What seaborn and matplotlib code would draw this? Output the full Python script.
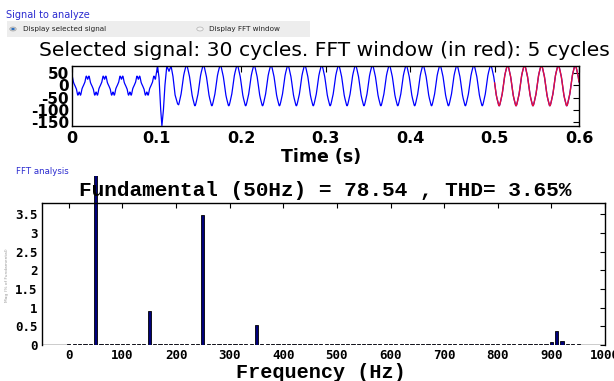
import numpy as np
import pandas as pd
import matplotlib
matplotlib.use("Agg")
import matplotlib.pyplot as plt
from matplotlib.patches import Rectangle, Circle
import seaborn as sns

# ---------------- data ----------------
# FFT spectrum, magnitude in % of fundamental, 10 Hz bins
FUND_HZ = 50
FUND_MAG = 78.54
THD_PCT = 3.65
harm_freqs = [50, 150, 250, 350, 550, 870, 880, 890, 900, 910, 920, 930, 940, 950]
harm_mags = [100.0, 0.92, 3.48, 0.54, 0.03, 0.02, 0.03, 0.04, 0.07, 0.37, 0.11, 0.04, 0.02, 0.02]
noise_floor = 0.015
bin_step, bin_last = 10, 950

# time signal: pre-event segment (before 0.1 s)
pre_amp, pre_offset, pre_peak_t = 35.0, -2.0, 0.0185
pre_harm_orders = [5, 7]
pre_harm_amps = [6.0, 3.0]
# transient around the event (read point by point)
trans_t = [0.0990, 0.1012, 0.1030, 0.1050, 0.1064, 0.1082, 0.1100, 0.1122, 0.1148, 0.1172, 0.1195, 0.1220, 0.1250]
trans_v = [30, 78, 30, -100, -164, -100, 0, 78, 56, 78, 35, -40, -76]
# steady state (after transient): fundamental + harmonics from the FFT above
post_offset, post_peak_t, post_start = -1.0, 0.0155, 0.1262
post_harm_orders = [3, 5, 7]
post_harm_pct = [0.92, 3.48, 0.54]
fs = 10000
fft_window = (0.5, 0.6)

title_top = "Selected signal: 30 cycles. FFT window (in red): 5 cycles"
title_fft = "Fundamental (50Hz) = 78.54 , THD= 3.65%"

# ---------------- build series ----------------
w = 2 * np.pi * FUND_HZ
t_pre = np.arange(0, trans_t[0], 1 / fs)
v_pre = pre_offset + pre_amp * np.cos(w * (t_pre - pre_peak_t))
for k, a in zip(pre_harm_orders, pre_harm_amps):
    v_pre += a * np.cos(k * w * (t_pre - pre_peak_t) + np.pi)
t_post = np.arange(post_start, 0.6 + 1e-9, 1 / fs)
v_post = post_offset + FUND_MAG * np.cos(w * (t_post - post_peak_t))
for k, p in zip(post_harm_orders, post_harm_pct):
    v_post += FUND_MAG * p / 100 * np.cos(k * w * (t_post - post_peak_t))
t_all = np.concatenate([t_pre, trans_t, t_post])
v_all = np.concatenate([v_pre, trans_v, v_post])
sig = pd.DataFrame({"t": t_all, "v": v_all})
win = sig[(sig.t >= fft_window[0]) & (sig.t <= fft_window[1])]

bins = list(range(0, bin_last + 1, bin_step))
mags = {f: noise_floor for f in bins}
for f, m in zip(harm_freqs, harm_mags):
    mags[f] = m
spec = pd.DataFrame({"f": list(mags.keys()), "m": list(mags.values())})

# ---------------- figure ----------------
sns.set_theme(style="white")
plt.rcParams["font.family"] = ["DejaVu Sans"]
W, H = 614, 381
fig = plt.figure(figsize=(W / 100, H / 100), dpi=100)
fig.patch.set_facecolor("white")

def fx(px):
    return px / W

def fy(py):
    return 1 - py / H

# GUI header
fig.text(fx(6), fy(15), "Signal to analyze", color="#2b2bd0", fontsize=7, va="center", ha="left")
fig.patches.append(Rectangle((fx(7), fy(37)), fx(303), 16 / H, transform=fig.transFigure,
                             facecolor="#ededed", edgecolor="none", zorder=0))
fig.patches.append(Circle((fx(13), fy(29)), 3.2 / W, transform=fig.transFigure,
                          facecolor="#d8d8d8", edgecolor="#a0a0a0", lw=0.5))
fig.patches.append(Circle((fx(13), fy(29)), 1.8 / W, transform=fig.transFigure,
                          facecolor="#2a6fc0", edgecolor="none"))
fig.patches.append(Circle((fx(200), fy(29)), 3.2 / W, transform=fig.transFigure,
                          facecolor="#f4f4f4", edgecolor="#b0b0b0", lw=0.5))
fig.text(fx(23), fy(29), "Display selected signal", fontsize=5.2, va="center", ha="left", color="#222222")
fig.text(fx(209), fy(29), "Display FFT window", fontsize=5.2, va="center", ha="left", color="#222222")

# ---------- top axes ----------
ax1 = fig.add_axes([fx(72), fy(125.7), fx(579) - fx(72), fy(65.7) - fy(125.7)])
sns.lineplot(data=sig, x="t", y="v", ax=ax1, color="#0000ff", linewidth=0.9,
             estimator=None, sort=False)
sns.lineplot(data=win, x="t", y="v", ax=ax1, color="#e5103c", linewidth=1.0,
             estimator=None, sort=False)
ax1.set_xlim(0, 0.6)
ax1.set_ylim(-164, 78.6)
ax1.set_xticks([0, 0.1, 0.2, 0.3, 0.4, 0.5, 0.6])
ax1.set_xticklabels(["0", "0.1", "0.2", "0.3", "0.4", "0.5", "0.6"])
ax1.set_yticks([-150, -100, -50, 0, 50])
ax1.set_yticklabels(["-150", "-100", "-50", "0", "50"])
ax1.set_xlabel("")
ax1.set_ylabel("")
ax1.tick_params(direction="in", top=True, right=True, length=4, width=0.8, colors="black")
ax1.tick_params(axis="x", pad=4, labelsize=11.5)
ax1.tick_params(axis="y", pad=2, labelsize=11)
for lab in ax1.get_xticklabels() + ax1.get_yticklabels():
    lab.set_fontweight("bold")
for s in ax1.spines.values():
    s.set_color("black")
    s.set_linewidth(1.0)
fig.text(fx(324), fy(50), title_top, fontsize=14.6, ha="center", va="center", color="black")
fig.text(fx(321), fy(157), "Time (s)", fontsize=12.5, fontweight="bold", ha="center", va="center",
         color="black")

# ---------- FFT axes ----------
fig.text(fx(16), fy(171), "FFT analysis", color="#2b2bd0", fontsize=6.2, va="center", ha="left")
ax2 = fig.add_axes([fx(42), fy(345), fx(605) - fx(42), fy(203) - fy(345)])
sns.barplot(data=spec, x="f", y="m", native_scale=True, ax=ax2, color="#00007a",
            edgecolor="black", linewidth=0.6, width=0.6, errorbar=None, saturation=1)
ax2.set_xlim(-50, 1000)
ax2.set_ylim(0, 3.8)
ax2.set_xticks(list(range(0, 1001, 100)))
ax2.set_xticklabels([str(v) for v in range(0, 1001, 100)])
ax2.set_yticks([0, 0.5, 1, 1.5, 2, 2.5, 3, 3.5])
ax2.set_yticklabels(["0", "0.5", "1", "1.5", "2", "2.5", "3", "3.5"])
ax2.set_xlabel("")
ax2.set_ylabel("")
ax2.tick_params(direction="in", top=True, right=True, length=3.5, width=0.8, colors="black")
ax2.tick_params(axis="x", pad=3)
ax2.tick_params(axis="y", pad=3)
for lab in ax2.get_xticklabels() + ax2.get_yticklabels():
    lab.set_fontfamily("DejaVu Sans Mono")
    lab.set_fontweight("bold")
    lab.set_fontsize(9)
for s in ax2.spines.values():
    s.set_color("black")
    s.set_linewidth(1.0)
ax2.spines["bottom"].set_visible(False)
ax2.axhline(0, xmin=0, xmax=(-3 + 50) / 1050, color="black", lw=1.0, zorder=3)
ax2.axhline(0, xmin=(953 + 50) / 1050, xmax=1, color="black", lw=1.0, zorder=3)
# let the fundamental bar run up past the axes, as in the screenshot
clip = Rectangle((fx(42), fy(345)), fx(605) - fx(42), fy(176) - fy(345), transform=fig.transFigure)
for p in ax2.patches:
    p.set_clip_path(clip)
fig.text(fx(325), fy(190), title_fft, fontsize=15.2, fontweight="bold",
         family="Liberation Mono", ha="center", va="center", color="black")
fig.text(fx(321), fy(372), "Frequency (Hz)", fontsize=14.5, fontweight="bold",
         family="Liberation Mono", ha="center", va="center", color="black")
fig.text(fx(7), fy(275), "Mag (% of Fundamental)", fontsize=3.2, color="#9a9a9a",
         rotation=90, ha="center", va="center")

fig.savefig("out.png", dpi=100)
